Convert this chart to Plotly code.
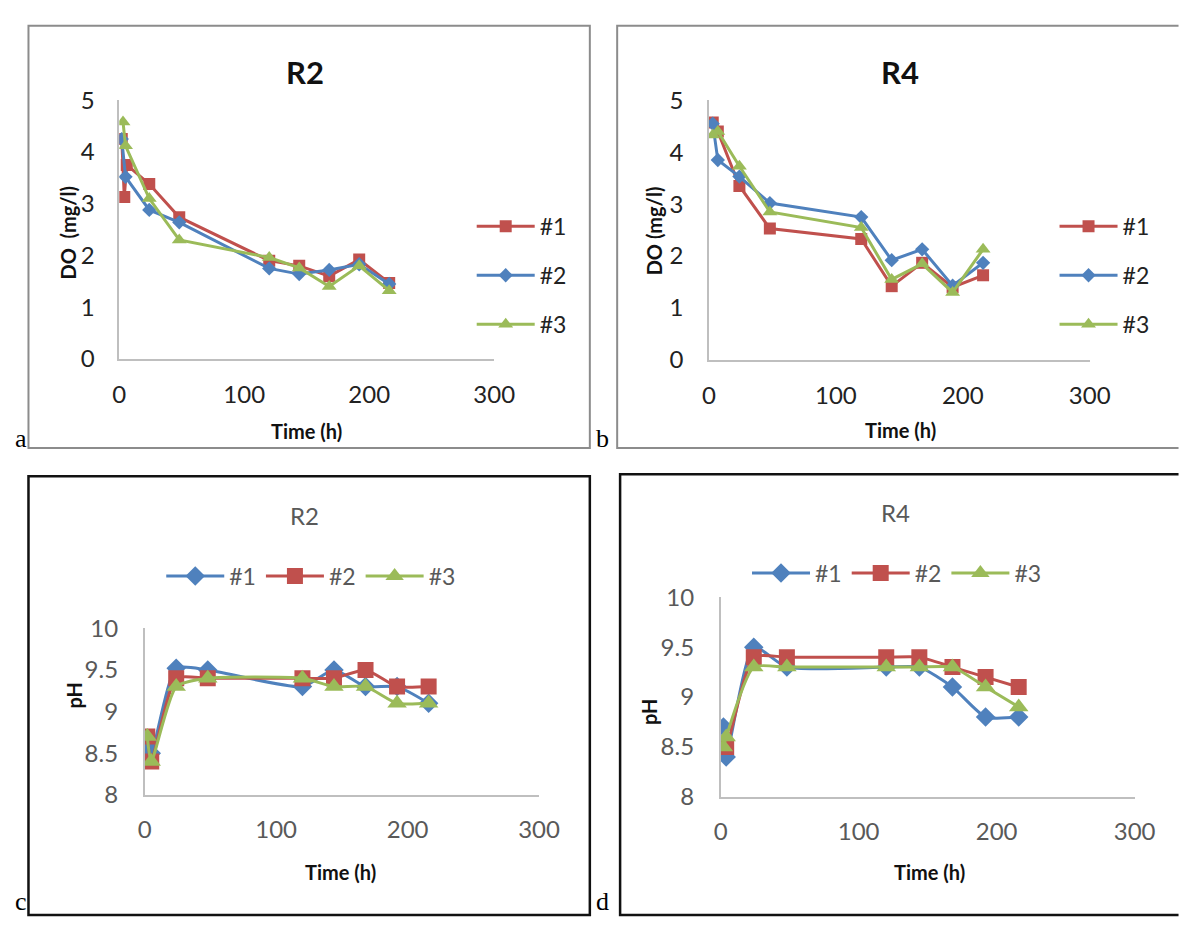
import plotly.graph_objects as go

W, H = 1180, 929

# ---------------- data ----------------
# Panel a: DO, R2
a_t1 = [2, 4, 6, 24, 48, 120, 144, 168, 192, 216]
a_y1 = [4.25, 3.13, 3.75, 3.38, 2.74, 1.9, 1.8, 1.6, 1.92, 1.47]
a_t2 = [2, 5, 24, 48, 120, 144, 168, 192, 216]
a_y2 = [4.25, 3.52, 2.88, 2.64, 1.75, 1.64, 1.72, 1.83, 1.45]
a_t3 = [3, 5, 24, 48, 120, 144, 168, 192, 216]
a_y3 = [4.58, 4.12, 3.1, 2.3, 1.96, 1.76, 1.4, 1.8, 1.32]

# Panel b: DO, R4
b_t = [3, 7, 24, 48, 120, 144, 168, 192, 216]
b_y1 = [4.57, 4.4, 3.35, 2.53, 2.33, 1.42, 1.87, 1.4, 1.63]
b_y2 = [4.55, 3.85, 3.53, 3.02, 2.75, 1.92, 2.13, 1.43, 1.87]
b_y3 = [4.33, 4.4, 3.73, 2.85, 2.55, 1.55, 1.85, 1.3, 2.13]

# Panel c: pH, R2
c_t = [2, 5, 24, 48, 120, 144, 168, 192, 216]
c_y1 = [8.6, 8.5, 9.52, 9.5, 9.3, 9.5, 9.3, 9.3, 9.1]
c_y2 = [8.7, 8.4, 9.4, 9.4, 9.4, 9.4, 9.5, 9.3, 9.3]
c_y3 = [8.7, 8.4, 9.3, 9.4, 9.4, 9.3, 9.3, 9.1, 9.1]

# Panel d: pH, R4
d_t = [2, 4, 24, 48, 120, 144, 168, 192, 216]
d_y1 = [8.7, 8.4, 9.5, 9.3, 9.3, 9.3, 9.1, 8.8, 8.8]
d_y2 = [8.5, 8.5, 9.4, 9.4, 9.4, 9.4, 9.3, 9.2, 9.1]
d_y3 = [8.5, 8.6, 9.3, 9.3, 9.3, 9.3, 9.3, 9.1, 8.9]

series_names = ["#1", "#2", "#3"]
x_ticks = [0, 100, 200, 300]
do_ticks = [0, 1, 2, 3, 4, 5]
ph_ticks = [8, 8.5, 9, 9.5, 10]

BLUE = "#4F81BD"
RED = "#C0504D"
GREEN = "#9BBB59"
FONT = "Lato"

def px(x):
    return x / W

def py(y):
    return 1 - y / H

fig = go.Figure()

def add(xa, ya, t, y, name, color, symbol, size, legend, group, spline=False):
    fig.add_trace(go.Scatter(
        x=t, y=y, name=name, xaxis=xa, yaxis=ya,
        mode="lines+markers",
        line=dict(color=color, width=3, shape="spline" if spline else "linear",
                  smoothing=0.6),
        marker=dict(symbol=symbol, size=size, color=color),
        legend=legend, legendgroup=group + legend,
    ))

# panel a
add("x", "y", a_t1, a_y1, series_names[0], RED, "square", 12, "legend", "g1")
add("x", "y", a_t2, a_y2, series_names[1], BLUE, "diamond", 11, "legend", "g2")
add("x", "y", a_t3, a_y3, series_names[2], GREEN, "triangle-up", 13, "legend", "g3")
# panel b
add("x2", "y2", b_t, b_y1, series_names[0], RED, "square", 12, "legend2", "g1")
add("x2", "y2", b_t, b_y2, series_names[1], BLUE, "diamond", 11, "legend2", "g2")
add("x2", "y2", b_t, b_y3, series_names[2], GREEN, "triangle-up", 13, "legend2", "g3")
# panel c
add("x3", "y3", c_t, c_y1, series_names[0], BLUE, "diamond", 15, "legend3", "g1", True)
add("x3", "y3", c_t, c_y2, series_names[1], RED, "square", 16, "legend3", "g2", True)
add("x3", "y3", c_t, c_y3, series_names[2], GREEN, "triangle-up", 17, "legend3", "g3", True)
# panel d
add("x4", "y4", d_t, d_y1, series_names[0], BLUE, "diamond", 15, "legend4", "g1", True)
add("x4", "y4", d_t, d_y2, series_names[1], RED, "square", 16, "legend4", "g2", True)
add("x4", "y4", d_t, d_y3, series_names[2], GREEN, "triangle-up", 17, "legend4", "g3", True)

def xaxis(x0, x1, anchor, standoff, color):
    return dict(domain=[px(x0), px(x1)], range=[0, 300], anchor=anchor,
                tickvals=x_ticks, showgrid=False, zeroline=False,
                showline=True, linecolor="#BFBFBF", linewidth=1.5,
                ticks="", ticklabelstandoff=standoff,
                tickfont=dict(family=FONT, size=24, color=color))

def yaxis(y0, y1, rng, vals, anchor, standoff, color):
    return dict(domain=[py(y0), py(y1)], range=rng, anchor=anchor,
                tickvals=vals, showgrid=False, zeroline=False,
                showline=True, linecolor="#BFBFBF", linewidth=1.5,
                ticks="", ticklabelstandoff=standoff,
                tickfont=dict(family=FONT, size=24, color=color))

layout = dict(
    autosize=True, margin=dict(l=0, r=0, t=0, b=0),
    paper_bgcolor="white", plot_bgcolor="white",
    xaxis=xaxis(115, 499, "y", 14, "#222"),
    yaxis=yaxis(354, 87, [0, 5], do_ticks, "x", 18, "#222"),
    xaxis2=xaxis(719, 1109, "y2", 14, "#222"),
    yaxis2=yaxis(355, 87, [0, 5], do_ticks, "x2", 19, "#222"),
    xaxis3=xaxis(141, 545, "y3", 13, "#595959"),
    yaxis3=yaxis(804, 632, [8, 10], ph_ticks, "x3", 20, "#595959"),
    xaxis4=xaxis(731, 1155, "y4", 13, "#595959"),
    yaxis4=yaxis(806, 600, [8, 10], ph_ticks, "x4", 20, "#595959"),
    showlegend=True,
)

leg_v = dict(orientation="v", xanchor="left", yanchor="top",
             font=dict(family=FONT, size=23, color="#222"),
             bgcolor="rgba(0,0,0,0)", tracegroupgap=16, itemwidth=58)
layout["legend"] = dict(leg_v, x=px(476), y=py(195))
layout["legend2"] = dict(leg_v, x=px(1073), y=py(195))
leg_h = dict(orientation="h", xanchor="left", yanchor="middle",
             font=dict(family=FONT, size=23, color="#595959"),
             bgcolor="rgba(0,0,0,0)", itemwidth=58, tracegroupgap=0)
layout["legend3"] = dict(leg_h, x=px(158), y=py(578))
layout["legend4"] = dict(leg_h, x=px(758), y=py(575))

fig.update_layout(**layout)

def open_frame(x0, y0, x1, y1):
    # left, top and bottom sides only (right side lies beyond the page)
    return (f"M {px(x1)} {py(y0)} L {px(x0)} {py(y0)} "
            f"L {px(x0)} {py(y1)} L {px(x1)} {py(y1)}")

# panel frames
shapes = [
    dict(type="rect", xref="paper", yref="paper", x0=px(22), x1=px(597), y0=py(446), y1=py(10),
         line=dict(color="#8C8C8C", width=2)),
    dict(type="path", xref="paper", yref="paper", path=open_frame(625, 10, 1200, 446),
         line=dict(color="#8C8C8C", width=2)),
    dict(type="rect", xref="paper", yref="paper", x0=px(22), x1=px(597), y0=py(928), y1=py(475),
         line=dict(color="#111", width=2.5)),
    dict(type="path", xref="paper", yref="paper", path=open_frame(628, 473, 1200, 928),
         line=dict(color="#111", width=2.5)),
]
fig.update_layout(shapes=shapes)

def ann(x, y, text, size, color="#111", angle=0, family=FONT):
    return dict(x=px(x), y=py(y), xref="paper", yref="paper", text=text,
                showarrow=False, textangle=angle, xanchor="center", yanchor="middle",
                font=dict(family=family, size=size, color=color))

annotations = [
    ann(305, 58, "<b>R2</b>", 31),
    ann(915, 58, "<b>R4</b>", 31),
    ann(305, 516, "R2", 24, "#595959"),
    ann(910, 512, "R4", 24, "#595959"),
    ann(62, 224, "<b>DO\u00a0 (mg/l)</b>", 20, angle=-90),
    ann(663, 222, "<b>DO (mg/l)</b>", 20, angle=-90),
    ann(69, 701, "<b>pH</b>", 20, angle=-90),
    ann(657, 718, "<b>pH</b>", 20, angle=-90),
    ann(307, 428, "<b>Time (h)</b>", 20),
    ann(915, 427, "<b>Time (h)</b>", 20),
    ann(342, 884, "<b>Time (h)</b>", 20),
    ann(945, 884, "<b>Time (h)</b>", 20),
    ann(14, 436, "a", 26, "#000", family="Liberation Serif"),
    ann(610, 436, "b", 26, "#000", family="Liberation Serif"),
    ann(14, 914, "c", 26, "#000", family="Liberation Serif"),
    ann(610, 914, "d", 26, "#000", family="Liberation Serif"),
]
fig.update_layout(annotations=annotations)

fig.write_html(
    "out.html",
    config={"displayModeBar": False, "responsive": True},
    default_width="100vw",
    default_height="100vh",
    post_script=("document.body.style.margin='0';document.body.style.overflow='hidden';"
                 "window.dispatchEvent(new Event('resize'));"),
)
